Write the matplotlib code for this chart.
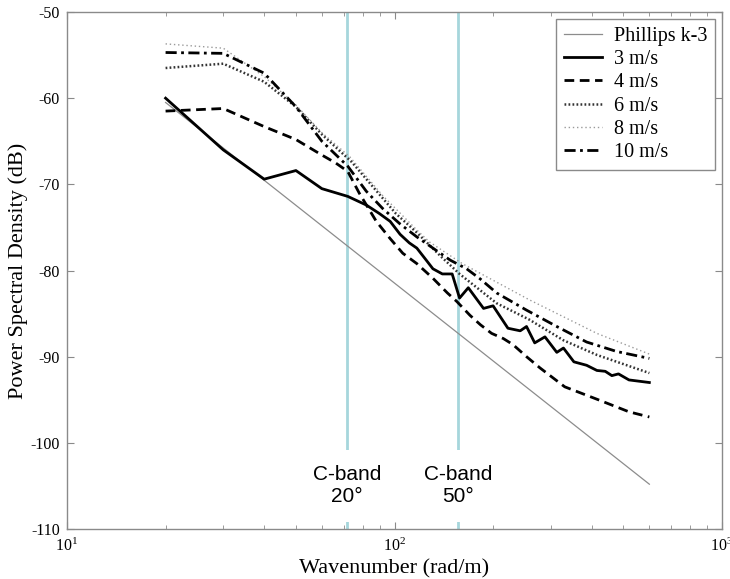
import matplotlib
matplotlib.use('Agg')
import matplotlib.pyplot as plt

plt.rcParams['font.family'] = ['Liberation Serif', 'DejaVu Serif']
plt.rcParams['mathtext.fontset'] = 'stix'
plt.rcParams['axes.unicode_minus'] = False

# wavenumber (rad/m) / power spectral density (dB)
k_phil = [20, 600]
psd_phil = [-60.5, -104.8]

k_3 = [20, 30, 40, 50, 60, 72, 82, 90, 97, 104, 111, 117, 125, 131, 140, 150,
       158, 168, 187, 200, 222, 242, 253, 268, 288, 313, 328, 353, 386, 415,
       440, 461, 483, 520, 600]
psd_3 = [-60.0, -66.0, -69.4, -68.4, -70.5, -71.4, -72.4, -73.4, -74.3, -75.8,
         -76.8, -77.4, -78.8, -79.8, -80.4, -80.4, -83.2, -82.0, -84.4, -84.1,
         -86.7, -87.0, -86.5, -88.4, -87.7, -89.5, -89.0, -90.6, -91.0, -91.6,
         -91.7, -92.2, -92.0, -92.7, -93.0]

k_4 = [20, 30, 40, 50, 60, 66, 72, 78, 88, 97, 106, 117, 131, 145, 155, 170,
       183, 198, 215, 230, 253, 278, 331, 419, 520, 600]
psd_4 = [-61.5, -61.2, -63.3, -64.8, -66.6, -67.5, -68.5, -71.0, -74.3, -76.3,
         -78.0, -79.2, -80.9, -82.6, -83.6, -85.2, -86.3, -87.3, -87.9, -88.6,
         -90.0, -91.3, -93.5, -95.0, -96.4, -97.0]

k_6 = [20, 30, 40, 50, 60, 74, 86, 101, 117, 138, 158, 205, 258, 328, 415, 600]
psd_6 = [-56.5, -56.0, -58.1, -61.0, -64.2, -67.4, -70.3, -73.4, -75.6, -78.3,
         -80.4, -83.8, -85.7, -88.1, -89.8, -91.9]

k_8 = [20, 30, 40, 50, 60, 73, 92, 117, 128, 161, 258, 415, 600]
psd_8 = [-53.7, -54.2, -57.5, -60.8, -64.0, -66.8, -71.3, -75.3, -76.7, -79.2,
         -83.4, -87.3, -89.7]

k_10 = [20, 30, 40, 50, 60, 72, 82, 92, 104, 117, 131, 148, 166, 183, 205, 253,
        313, 386, 477, 600]
psd_10 = [-54.7, -54.8, -57.1, -61.0, -65.0, -67.9, -70.8, -72.8, -74.6, -76.1,
          -77.4, -78.8, -79.8, -81.0, -82.6, -84.6, -86.5, -88.3, -89.4, -90.2]

band_k = [71.5, 156]
band_labels = ['C-band\n20°', 'C-band\n50°']

y_ticks = [-110, -100, -90, -80, -70, -60, -50]


def graf():
    fig = plt.figure(figsize=(7.30, 5.79), dpi=100)
    ax = fig.add_axes([67 / 730, 1 - 529 / 579, 655 / 730, 517 / 579])

    edge = '#8a8a8a'
    cyan = '#a6d6dc'

    for kb, lab in zip(band_k, band_labels):
        ax.axvline(kb, color=cyan, lw=2, zorder=1)
        ax.text(kb, -105.0, lab, ha='center', va='center', fontsize=15,
                family=['Liberation Sans', 'DejaVu Sans'], zorder=2,
                bbox=dict(boxstyle='square,pad=0.75', fc='white', ec='none'))

    ax.plot(k_phil, psd_phil, color='#8c8c8c', lw=0.9, label='Phillips k-3', zorder=3)
    ax.plot(k_3, psd_3, color='black', lw=2.0, label='3 m/s', zorder=4)
    ax.plot(k_4, psd_4, color='black', lw=2.0, dashes=(3.5, 2.0), label='4 m/s', zorder=4)
    ax.plot(k_6, psd_6, color='#333333', lw=1.8, dashes=(0.7, 0.9), label='6 m/s', zorder=4)
    ax.plot(k_8, psd_8, color='#9a9a9a', lw=1.0, dashes=(1.0, 2.0), label='8 m/s', zorder=4)
    ax.plot(k_10, psd_10, color='black', lw=2.0, dashes=(4.0, 1.6, 1.0, 1.6),
            label='10 m/s', zorder=4)

    ax.set_xscale('log')
    ax.set_xlim(10, 1000)
    ax.set_ylim(-110, -50)
    ax.set_yticks(y_ticks)
    ax.set_yticklabels([str(v) for v in y_ticks])

    for s in ax.spines.values():
        s.set_color(edge)
        s.set_linewidth(1.0)
    ax.tick_params(which='both', direction='in', top=True, right=True,
                   colors=edge, labelcolor='black', labelsize=11.5)
    ax.tick_params(which='major', length=5, pad=5)
    ax.tick_params(which='minor', length=3)
    ax.tick_params(axis='x', which='major', pad=6)

    ax.set_xlabel('Wavenumber (rad/m)', fontsize=16, labelpad=3)
    ax.set_ylabel('Power Spectral Density (dB)', fontsize=16, labelpad=2)

    leg = ax.legend(loc='upper right', fontsize=14.5, fancybox=False, framealpha=1,
                    edgecolor=edge, handlelength=1.9, handletextpad=0.55,
                    labelspacing=0.2, borderpad=0.4, borderaxespad=0.35)
    leg.get_frame().set_linewidth(1.0)

    fig.savefig('out.png', dpi=100)


if __name__ == '__main__':
    graf()
